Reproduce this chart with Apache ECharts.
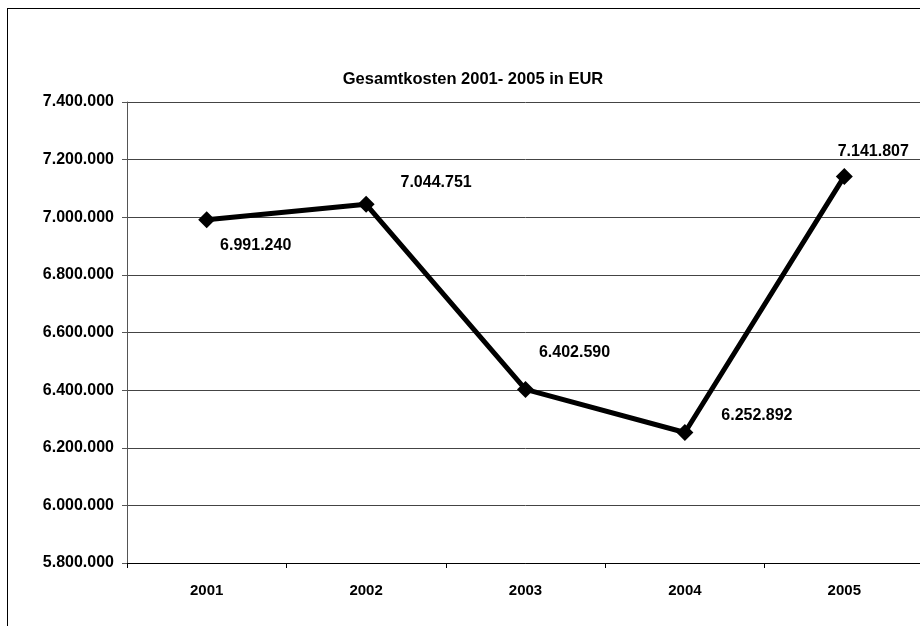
<!DOCTYPE html>
<html><head><meta charset="utf-8">
<script src="https://cdn.jsdelivr.net/npm/echarts@6/dist/echarts.min.js"></script>
<style>html,body{margin:0;padding:0;background:#fff;overflow:hidden;width:920px;height:626px}#c{width:930px;height:626px;position:relative}
#frame{position:absolute;left:7px;top:8px;width:930px;height:640px;border:1px solid #000;box-sizing:border-box;pointer-events:none}</style>
</head><body><div id="c"></div><div id="frame"></div>
<script>
const titleText = "Gesamtkosten 2001- 2005 in EUR";
const years = ["2001","2002","2003","2004","2005"];
const costs = [6991240, 7044751, 6402590, 6252892, 7141807];
const yMin = 5800000, yMax = 7400000, yStep = 200000;

function fmt(v){ return String(Math.round(v)).replace(/\B(?=(\d{3})+(?!\d))/g, "."); }
const labelOffsets = [[49,26],[70,-22],[49,-37],[72,-17],[29,-25]];
const FONT = 'Liberation Sans, Arial';

const chart = echarts.init(document.getElementById('c'));
chart.setOption({
  animation:false,
  title:{text:titleText,left:468,top:66,textAlign:'center',textStyle:{fontFamily:FONT,fontSize:16.5,fontWeight:'bold',color:'#000'}},
  grid:{left:127,top:102,width:797,bottom:63,containLabel:false},
  xAxis:{type:'category',data:years,boundaryGap:true,
    axisLine:{lineStyle:{color:'#000',width:1}},
    axisTick:{show:true,length:5,lineStyle:{color:'#000'}},
    axisLabel:{margin:20,fontFamily:FONT,fontSize:15,fontWeight:'bold',color:'#000'}},
  yAxis:{type:'value',min:yMin,max:yMax,interval:yStep,
    axisLine:{show:true,lineStyle:{color:'#555',width:1}},
    axisTick:{show:true,length:5,lineStyle:{color:'#555'}},
    splitLine:{show:true,lineStyle:{color:'#444',width:1}},
    axisLabel:{margin:13,formatter:fmt,fontFamily:FONT,fontSize:16,fontWeight:'bold',color:'#000'}},
  series:[{type:'line',data:costs.map((v,i)=>({value:v,label:{offset:labelOffsets[i]}})),
    symbol:'diamond',symbolSize:17,
    lineStyle:{color:'#000',width:5},itemStyle:{color:'#000'},
    label:{show:true,position:'inside',formatter:p=>fmt(p.value),fontFamily:FONT,fontSize:16,fontWeight:'bold',color:'#000'}}]
});
</script></body></html>
